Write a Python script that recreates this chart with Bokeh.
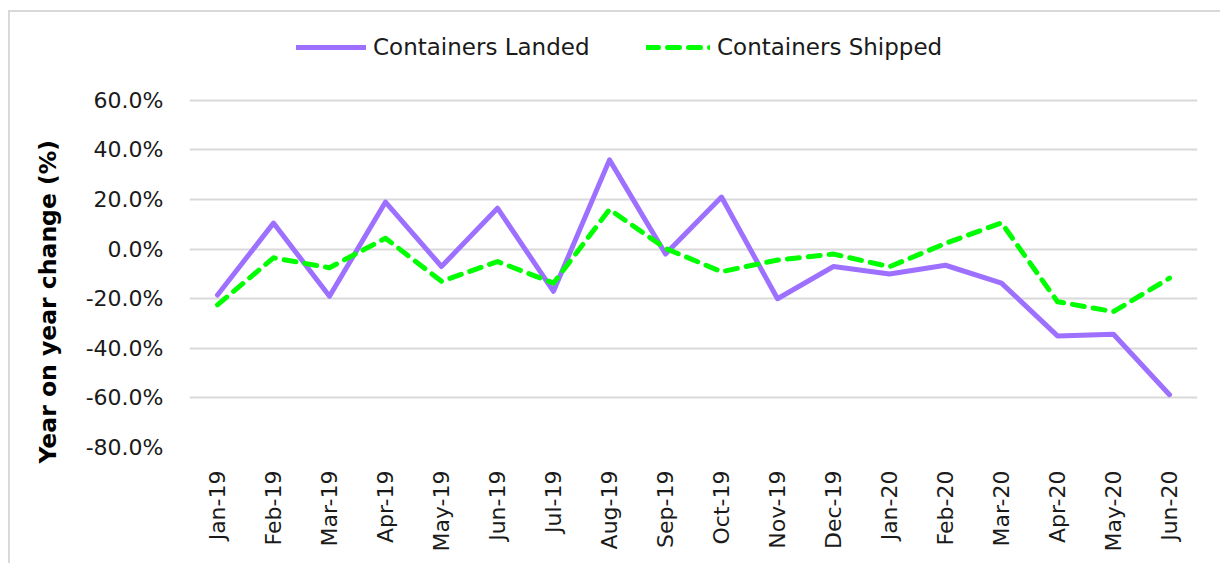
from bokeh.plotting import figure
from bokeh.models import (Range1d, FactorRange, Legend, LegendItem, PrintfTickFormatter,
                          FixedTicker, Title)
from bokeh.embed import file_html
from bokeh.resources import INLINE
import math

months = ["Jan-19", "Feb-19", "Mar-19", "Apr-19", "May-19", "Jun-19", "Jul-19", "Aug-19",
          "Sep-19", "Oct-19", "Nov-19", "Dec-19", "Jan-20", "Feb-20", "Mar-20", "Apr-20",
          "May-20", "Jun-20"]
landed = [-18.5, 10.5, -19.0, 19.0, -7.0, 16.5, -17.0, 36.0, -2.0, 21.0, -20.0, -7.0,
          -10.0, -6.5, -13.7, -35.0, -34.3, -58.7]
shipped = [-22.5, -3.5, -7.5, 4.4, -13.0, -5.0, -13.7, 16.0, 0.3, -9.1, -4.4, -2.0,
           -7.1, 2.3, 10.6, -21.2, -25.2, -11.7]
y_ticks = [-80, -60, -40, -20, 0, 20, 40, 60]

FONT = "DejaVu Sans"
TXT = "#1a1a1a"
GRID = "#d9d9d9"
PURPLE = "#9e70ff"
GREEN = "#00ff00"

p = figure(width=1212, height=553, x_range=FactorRange(*months), y_range=Range1d(-80, 88.17),
           output_backend="svg", toolbar_location=None,
           min_border_left=178, min_border_right=25, min_border_top=18, min_border_bottom=118)
p.styles = {"margin-left": "8px", "margin-top": "10px",
            "border-top": "2px solid #d9d9d9", "border-left": "2px solid #d9d9d9"}
p.outline_line_color = None
p.background_fill_color = "white"
p.border_fill_color = "white"

r1 = p.line(months, landed, line_color=PURPLE, line_width=5, line_join="round", line_cap="round")
r2 = p.line(months, shipped, line_color=GREEN, line_width=5, line_dash="12 9",
            line_join="round", line_cap="round")

p.xgrid.grid_line_color = None
p.ygrid.grid_line_color = GRID
p.ygrid.grid_line_width = 2
p.yaxis.ticker = FixedTicker(ticks=y_ticks)
p.yaxis.formatter = PrintfTickFormatter(format="%.1f%%")

for ax in (p.xaxis[0], p.yaxis[0]):
    ax.axis_line_color = None
    ax.major_tick_line_color = None
    ax.minor_tick_line_color = None
    ax.major_label_text_font = FONT
    ax.major_label_text_color = TXT
    ax.major_label_text_font_size = "22px"

p.yaxis.major_label_standoff = 20

ylab = Title(text="Year on year change (%)", align="left", offset=-16, standoff=42,
             text_font=FONT, text_font_style="bold", text_font_size="23.5px",
             text_color="#000000")
p.add_layout(ylab, "left")

p.xaxis.major_label_orientation = math.pi / 2
p.xaxis.major_label_standoff = 17

def mk_legend(item, x, gw):
    lg = Legend(items=[item], location=(x, 387), orientation="horizontal",
                glyph_width=gw, glyph_height=20, label_height=20, label_standoff=7,
                padding=0, margin=0, border_line_color=None, background_fill_alpha=0,
                label_text_font=FONT, label_text_font_size="23px", label_text_color=TXT)
    p.add_layout(lg)
    return lg

mk_legend(LegendItem(label="Containers Landed", renderers=[r1]), 107, 70)
mk_legend(LegendItem(label="Containers Shipped", renderers=[r2]), 457, 64)

open("out.html", "w").write(file_html(p, INLINE))
